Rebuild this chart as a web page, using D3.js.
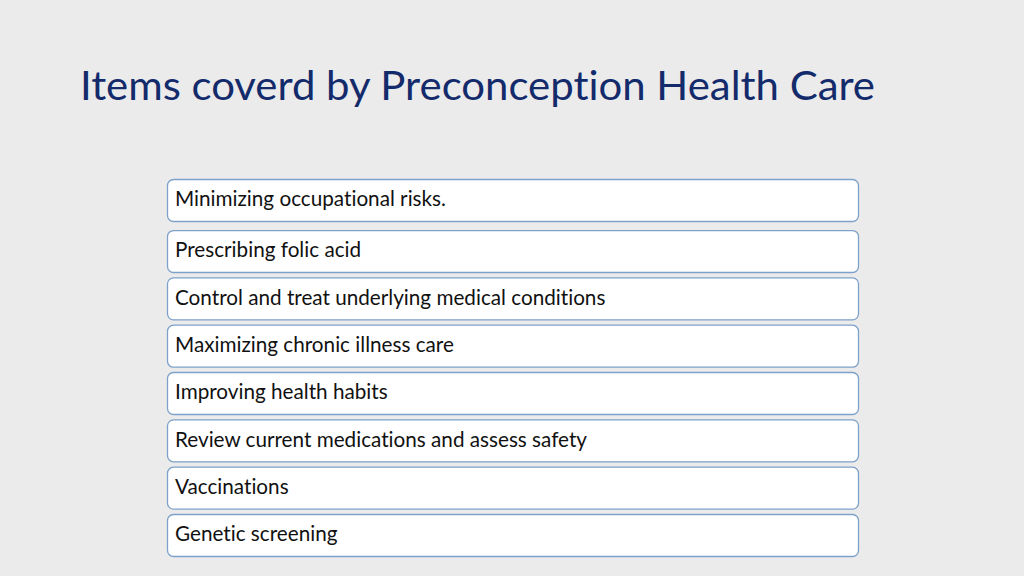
<!DOCTYPE html>
<html>
<head>
<meta charset="utf-8">
<script src="https://cdn.jsdelivr.net/npm/d3@7"></script>
<style>
  html, body { margin: 0; padding: 0; background: #ebebeb; }
  svg { display: block; }
  text { font-variant-ligatures: none; font-feature-settings: "liga" 0, "clig" 0; }
</style>
</head>
<body>
<svg id="chart" width="1024" height="576"></svg>
<script>
const titleText = "Items coverd by Preconception Health Care";
const items = [
  "Minimizing occupational risks.",
  "Prescribing folic acid",
  "Control and treat underlying medical conditions",
  "Maximizing chronic illness care",
  "Improving health habits",
  "Review current medications and assess safety",
  "Vaccinations",
  "Genetic screening"
];

const svg = d3.select("#chart");
svg.append("rect").attr("width", 1024).attr("height", 576).attr("fill", "#ebebeb");

const title = svg.append("text")
  .attr("x", 80).attr("y", 100)
  .attr("font-family", "Lato, 'Open Sans', sans-serif")
  .attr("font-size", 40)
  .attr("fill", "#132a6b")
  .text(titleText);
title.attr("textLength", 795).attr("lengthAdjust", "spacingAndGlyphs");

const x = d3.scaleLinear().domain([0, 1]).range([167, 858]);
const y = d3.scaleBand().domain(d3.range(items.length)).range([182.7, 556]).paddingInner(0.113).paddingOuter(0);

const g = svg.append("g");
const rows = g.selectAll("g.row").data(items).join("g").attr("class", "row")
  .attr("transform", (d, i) => `translate(0,${y(i) - (i === 0 ? 3.7 : 0)})`);

rows.append("rect")
  .attr("x", x(0) + 0.5).attr("y", 0.5)
  .attr("width", x(1) - x(0)).attr("height", y.bandwidth())
  .attr("rx", 6).attr("ry", 6)
  .attr("fill", "#ffffff")
  .attr("stroke", "#7ea1c9")
  .attr("stroke-width", 1.3);

rows.append("text")
  .attr("x", x(0) + 8).attr("y", y.bandwidth() / 2 + 1)
  .attr("dominant-baseline", "middle")
  .attr("font-family", "Lato, 'Open Sans', sans-serif")
  .attr("font-size", 20.7)
  .attr("fill", "#111111")
  .text(d => d);
</script>
</body>
</html>
